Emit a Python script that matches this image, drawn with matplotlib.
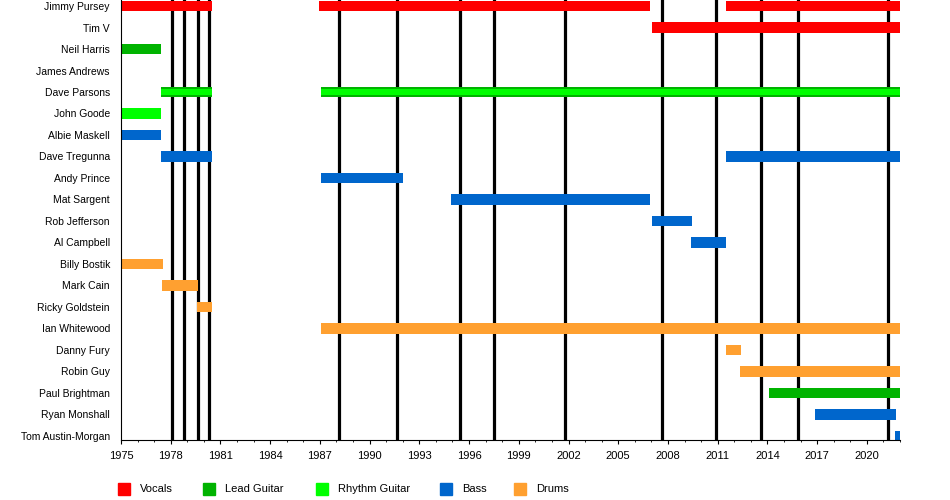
import matplotlib.pyplot as plt
from matplotlib.patches import Rectangle

plt.rcParams['font.family'] = ['Liberation Sans', 'DejaVu Sans']

members = ["Jimmy Pursey", "Tim V", "Neil Harris", "James Andrews", "Dave Parsons",
           "John Goode", "Albie Maskell", "Dave Tregunna", "Andy Prince", "Mat Sargent",
           "Rob Jefferson", "Al Campbell", "Billy Bostik", "Mark Cain", "Ricky Goldstein",
           "Ian Whitewood", "Danny Fury", "Robin Guy", "Paul Brightman", "Ryan Monshall",
           "Tom Austin-Morgan"]

roles = ["Vocals", "Lead Guitar", "Rhythm Guitar", "Bass", "Drums"]
role_colors = {"Vocals": "#ff0000", "Lead Guitar": "#00b300", "Rhythm Guitar": "#00ff00",
               "Bass": "#0066cc", "Drums": "#ffa030"}

# (member, role, start, end)
periods = [
    ("Jimmy Pursey", "Vocals", 1975.0, 1980.5),
    ("Jimmy Pursey", "Vocals", 1986.95, 2006.9),
    ("Jimmy Pursey", "Vocals", 2011.5, 2022.0),
    ("Tim V", "Vocals", 2007.05, 2022.0),
    ("Neil Harris", "Lead Guitar", 1975.0, 1977.4),
    ("Dave Parsons", "Lead Guitar", 1977.4, 1980.5),
    ("Dave Parsons", "Lead Guitar", 1987.05, 2022.0),
    ("John Goode", "Rhythm Guitar", 1975.0, 1977.4),
    ("Albie Maskell", "Bass", 1975.0, 1977.4),
    ("Dave Tregunna", "Bass", 1977.4, 1980.5),
    ("Dave Tregunna", "Bass", 2011.5, 2022.0),
    ("Andy Prince", "Bass", 1987.05, 1992.0),
    ("Mat Sargent", "Bass", 1994.9, 2006.9),
    ("Rob Jefferson", "Bass", 2007.05, 2009.45),
    ("Al Campbell", "Bass", 2009.4, 2011.5),
    ("Billy Bostik", "Drums", 1975.0, 1977.55),
    ("Mark Cain", "Drums", 1977.5, 1979.65),
    ("Ricky Goldstein", "Drums", 1979.6, 1980.5),
    ("Ian Whitewood", "Drums", 1987.05, 2022.0),
    ("Danny Fury", "Drums", 2011.5, 2012.4),
    ("Robin Guy", "Drums", 2012.35, 2022.0),
    ("Paul Brightman", "Lead Guitar", 2014.1, 2022.0),
    ("Ryan Monshall", "Bass", 2016.85, 2021.75),
    ("Tom Austin-Morgan", "Bass", 2021.7, 2022.0),
]

# second role drawn as a thin stripe inside the main bar
stripes = [
    ("Dave Parsons", "Rhythm Guitar", 1977.4, 1980.5),
    ("Dave Parsons", "Rhythm Guitar", 1987.05, 2022.0),
]

albums = [1978.05, 1978.78, 1979.62, 1980.28, 1988.18, 1991.68, 1995.48, 1997.5,
          2001.76, 2007.62, 2010.92, 2013.64, 2015.83, 2021.3]

start_year, end_year = 1975, 2022.0
major_years = list(range(1975, 2021, 3))
minor_years = list(range(1975, 2023))

fig = plt.figure(figsize=(9.5, 5), dpi=100)
ax = fig.add_axes([121 / 950, 60 / 500, 779 / 950, 440 / 500])

ypos = {m: i for i, m in enumerate(members)}

for x in albums:
    ax.axvline(x, color="black", lw=2.3, zorder=1)

for m, r, s, e in periods:
    ax.barh(ypos[m], e - s, left=s, height=0.5, color=role_colors[r], zorder=2)
for m, r, s, e in stripes:
    ax.barh(ypos[m], e - s, left=s, height=0.3, color=role_colors[r], zorder=3)

ax.set_xlim(start_year, end_year)
ax.set_ylim(20.19, -0.28)
ax.set_yticks(range(len(members)))
ax.set_yticklabels(members, fontsize=7.5)
ax.tick_params(axis="y", length=0, pad=8)
ax.set_xticks(major_years)
ax.set_xticks(minor_years, minor=True)
ax.tick_params(axis="x", which="major", length=3, labelsize=8, pad=5)
ax.tick_params(axis="x", which="minor", length=1.7)
ax.spines["top"].set_visible(False)
ax.spines["right"].set_visible(False)

# legend
leg_x = [118, 203, 316, 440, 514]
for lx, r in zip(leg_x, roles):
    fig.add_artist(Rectangle((lx / 950, 5.5 / 500), 12 / 950, 12 / 500,
                             color=role_colors[r], transform=fig.transFigure))
    fig.text((lx + 22) / 950, 10.5 / 500, r, fontsize=8, va="center")

fig.savefig("out.png", dpi=100)
